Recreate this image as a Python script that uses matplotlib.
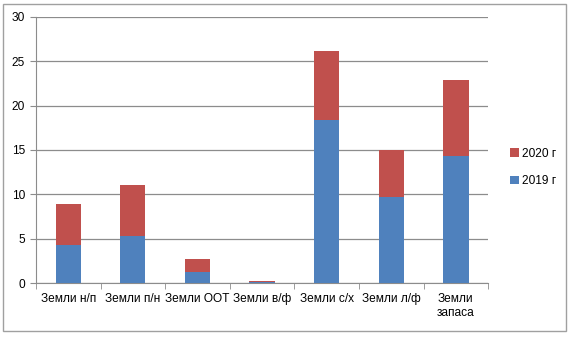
import numpy as np
import matplotlib.pyplot as plt
from matplotlib.patches import Rectangle

plt.rcParams['font.family'] = ['Liberation Sans', 'DejaVu Sans']

# data
categories = ["Земли н/п", "Земли п/н", "Земли ООТ", "Земли в/ф",
              "Земли с/х", "Земли л/ф", "Земли\nзапаса"]
y2019 = np.array([4.3, 5.3, 1.2, 0.1, 18.4, 9.7, 14.3])
y2020 = np.array([4.6, 5.7, 1.5, 0.15, 7.8, 5.3, 8.6])

blue = "#4f81bd"
red = "#c0504d"
grid_col = "#8c8c8c"

fig = plt.figure(figsize=(5.71, 3.37), dpi=100)
ax = fig.add_axes([0.063, 0.160, 0.792, 0.790])

x = np.arange(len(categories))
ax.bar(x, y2019, width=0.39, color=blue, label="2019 г", zorder=3)
ax.bar(x, y2020, width=0.39, bottom=y2019, color=red, label="2020 г", zorder=3)

ax.set_xlim(-0.5, len(categories) - 0.5)
ax.set_ylim(0, 30)
ax.set_yticks(np.arange(0, 31, 5))
ax.yaxis.grid(True, color=grid_col, linewidth=0.9, zorder=0)

ax.set_xticks(x)
ax.set_xticklabels(categories, fontsize=8.6)
ax.set_xticks(np.arange(-0.5, len(categories)), minor=True)
ax.tick_params(axis='x', which='major', length=0, pad=7)
ax.tick_params(axis='x', which='minor', length=4, color=grid_col)
ax.tick_params(axis='y', length=4, color=grid_col, labelsize=8.6, pad=4)

for s in ['top', 'right']:
    ax.spines[s].set_visible(False)
for s in ['left', 'bottom']:
    ax.spines[s].set_color(grid_col)

handles, labels = ax.get_legend_handles_labels()
ax.legend(handles[::-1], labels[::-1], loc='center left', bbox_to_anchor=(1.025, 0.434),
          frameon=False, fontsize=8.6, handlelength=0.7, handleheight=0.7,
          handletextpad=0.3, labelspacing=1.3)

# outer border
fig.patches.append(Rectangle((0.006, 0.018), 0.985, 0.97, transform=fig.transFigure,
                             fill=False, edgecolor="#a0a0a0", linewidth=1))

fig.savefig("out.png", dpi=100)
